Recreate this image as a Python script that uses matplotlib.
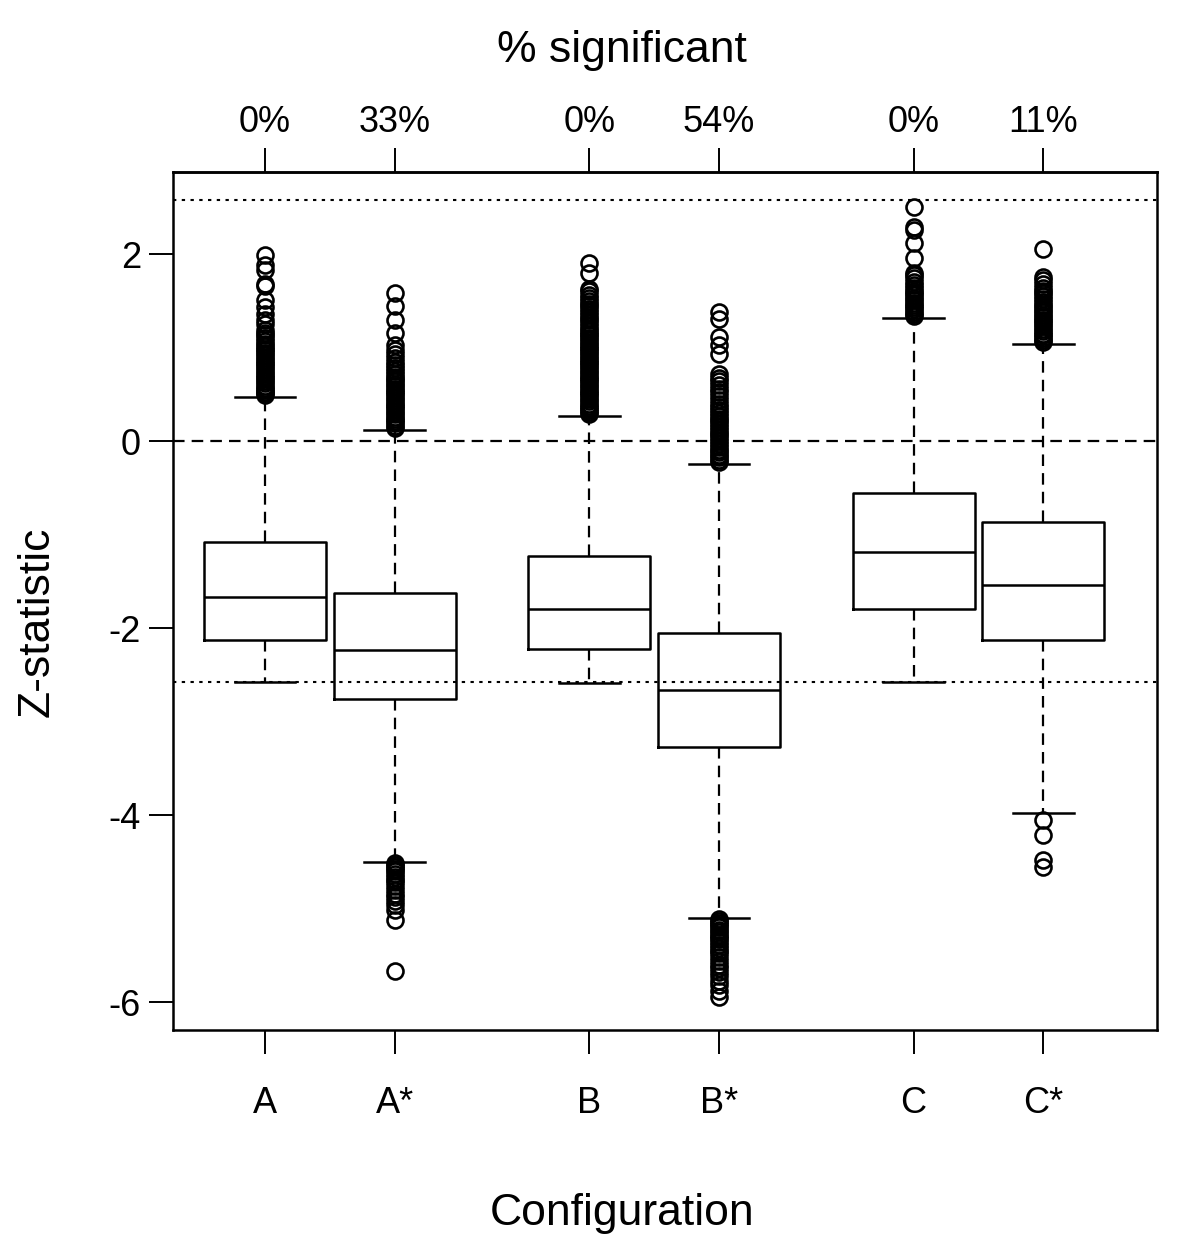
import matplotlib
matplotlib.use("Agg")
import matplotlib.pyplot as plt

plt.rcParams['font.family'] = ['Liberation Sans', 'DejaVu Sans']

# configurations and their x positions (pairs grouped)
configs = ['A', 'A*', 'B', 'B*', 'C', 'C*']
positions = [1, 2, 3.5, 4.5, 6, 7]
pct_sig = ['0%', '33%', '0%', '54%', '0%', '11%']

# box statistics
whis_lo = [-2.58, -4.50, -2.59, -5.10, -2.58, -3.98]
q1 = [-2.13, -2.76, -2.22, -3.27, -1.80, -2.13]
med = [-1.67, -2.23, -1.80, -2.66, -1.19, -1.54]
q3 = [-1.08, -1.62, -1.23, -2.05, -0.55, -0.86]
whis_hi = [0.47, 0.12, 0.27, -0.24, 1.32, 1.04]

# outliers (estimated from the dense columns of circles)
out_A = [0.49, 0.51, 0.53, 0.55, 0.57, 0.59, 0.62, 0.64, 0.67, 0.69, 0.72, 0.74,
         0.77, 0.79, 0.82, 0.84, 0.87, 0.89, 0.92, 0.94, 0.97, 0.99, 1.02, 1.04,
         1.07, 1.10, 1.13, 1.16, 1.19, 1.25, 1.30, 1.36, 1.43, 1.51, 1.66, 1.68,
         1.83, 1.88, 1.99]
out_As = [0.14, 0.16, 0.19, 0.21, 0.24, 0.26, 0.29, 0.31, 0.34, 0.36, 0.39, 0.41,
          0.44, 0.46, 0.49, 0.51, 0.54, 0.56, 0.59, 0.61, 0.64, 0.66, 0.69, 0.72,
          0.75, 0.78, 0.81, 0.85, 0.89, 0.93, 0.97, 1.03, 1.16, 1.30, 1.44, 1.58,
          -4.51, -4.53, -4.55, -4.58, -4.60, -4.63, -4.66, -4.69, -4.72, -4.76,
          -4.80, -4.84, -4.88, -4.92, -4.96, -5.02, -5.12, -5.67]
out_B = [0.29, 0.31, 0.33, 0.35, 0.38, 0.40, 0.43, 0.45, 0.48, 0.50, 0.53, 0.55,
         0.58, 0.60, 0.63, 0.65, 0.68, 0.70, 0.73, 0.75, 0.78, 0.80, 0.83, 0.85,
         0.88, 0.90, 0.93, 0.95, 0.98, 1.00, 1.03, 1.05, 1.08, 1.10, 1.13, 1.15,
         1.18, 1.20, 1.23, 1.26, 1.29, 1.32, 1.35, 1.38, 1.41, 1.44, 1.47, 1.50,
         1.53, 1.56, 1.60, 1.63, 1.80, 1.90]
out_Bs = [-0.22, -0.20, -0.17, -0.15, -0.12, -0.09, -0.06, -0.03, 0.00, 0.03,
          0.06, 0.09, 0.12, 0.15, 0.18, 0.21, 0.24, 0.27, 0.30, 0.33, 0.36, 0.40,
          0.44, 0.48, 0.52, 0.56, 0.60, 0.64, 0.68, 0.72, 0.93, 1.03, 1.11, 1.31,
          1.38,
          -5.11, -5.13, -5.15, -5.18, -5.20, -5.23, -5.25, -5.28, -5.30, -5.33,
          -5.36, -5.39, -5.42, -5.45, -5.48, -5.52, -5.56, -5.60, -5.64, -5.68,
          -5.72, -5.77, -5.82, -5.88, -5.95]
out_C = [1.34, 1.36, 1.38, 1.41, 1.43, 1.46, 1.48, 1.51, 1.53, 1.56, 1.58, 1.61,
         1.64, 1.67, 1.70, 1.74, 1.78, 1.80, 1.96, 2.12, 2.26, 2.29, 2.50]
out_Cs = [1.06, 1.08, 1.10, 1.13, 1.15, 1.18, 1.20, 1.23, 1.25, 1.28, 1.30, 1.33,
          1.35, 1.38, 1.40, 1.43, 1.46, 1.49, 1.52, 1.55, 1.58, 1.61, 1.64, 1.68,
          1.72, 1.76, 2.05, -4.05, -4.21, -4.48, -4.56]
outliers = [out_A, out_As, out_B, out_Bs, out_C, out_Cs]

z_crit = 2.576

stats = []
for i in range(len(configs)):
    stats.append({'label': configs[i], 'whislo': whis_lo[i], 'q1': q1[i],
                  'med': med[i], 'q3': q3[i], 'whishi': whis_hi[i],
                  'fliers': outliers[i]})

fig = plt.figure(figsize=(12, 12.58), dpi=100)
ax = fig.add_axes([0.1442, 0.1812, 0.8200, 0.6820])

lw = 1.8
dash = (0, (5.2, 3.2))
ax.axhline(0, color='black', lw=1.6, ls=dash, zorder=1)
ax.axhline(z_crit, color='black', lw=1.5, ls=(0, (1.6, 2.6)), zorder=1)
ax.axhline(-z_crit, color='black', lw=1.5, ls=(0, (1.6, 2.6)), zorder=1)

ax.bxp(stats, positions=positions, widths=0.94, capwidths=0.47,
       boxprops=dict(color='black', lw=lw),
       medianprops=dict(color='black', lw=lw),
       whiskerprops=dict(color='black', lw=1.6, ls=dash),
       capprops=dict(color='black', lw=lw),
       flierprops=dict(marker='o', mfc='none', mec='black', ms=11.5, mew=1.9),
       zorder=2)

ax.set_xlim(0.291, 7.877)
ax.set_ylim(-6.299, 2.877)
ax.set_yticks([-6, -4, -2, 0, 2])
ax.set_yticklabels(['-6', '-4', '-2', '0', '2'])
ax.set_xticks(positions)
ax.set_xticklabels(configs)

for s in ax.spines.values():
    s.set_linewidth(1.8)

ax.tick_params(axis='both', direction='out', length=17, width=1.4,
               labelsize=26, color='black')
ax.tick_params(axis='x', pad=23)
ax.tick_params(axis='y', pad=6)

ax.set_xlabel('Configuration', fontsize=32)
ax.set_ylabel('Z-statistic', fontsize=32)
# R centres the titles slightly left of the box centre
ax.xaxis.set_label_coords(0.456, -0.19)
ax.yaxis.set_label_coords(-0.117, 0.4755)

sec = ax.secondary_xaxis('top')
sec.set_xticks(positions)
sec.set_xticklabels(pct_sig)
sec.tick_params(direction='out', length=17, width=1.4, labelsize=26, pad=6)
sec.spines['top'].set_linewidth(1.8)
sec.set_xlabel('% significant', fontsize=32)
sec.xaxis.set_label_coords(0.456, 1.128, transform=ax.transAxes)

fig.savefig('out.png', dpi=100)
